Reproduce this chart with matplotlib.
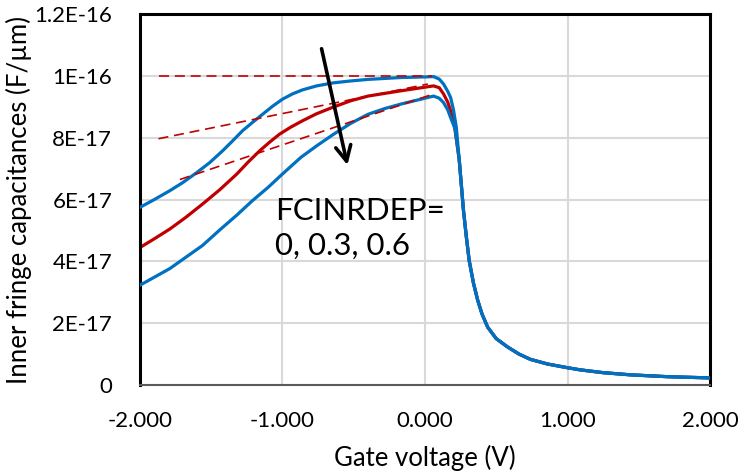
import matplotlib
matplotlib.use("Agg")
import matplotlib.pyplot as plt

plt.rcParams["font.family"] = ["Lato", "DejaVu Sans"]

# values, capacitance in units of 1e-17 F/um
# falling part above 0.24 V is shared by all three curves
tail_x = [0.24, 0.26, 0.27, 0.29, 0.31, 0.34, 0.37, 0.40, 0.44, 0.50, 0.58, 0.66,
          0.74, 0.86, 1.0, 1.09, 1.25, 1.44, 1.7, 2.0]
tail_y = [7.3, 6.2, 5.65, 4.8, 4.03, 3.3, 2.74, 2.3, 1.87, 1.5, 1.23, 1.0,
          0.83, 0.68, 0.56, 0.49, 0.40, 0.33, 0.27, 0.23]

x_f0 = [-2.0, -1.90, -1.79, -1.70, -1.60, -1.51, -1.42, -1.35, -1.28, -1.21,
        -1.14, -1.07, -1.0, -0.93, -0.86, -0.76, -0.64, -0.52, -0.40, -0.17,
        0.0, 0.06, 0.10, 0.13, 0.16, 0.18, 0.20, 0.22] + tail_x
y_f0 = [5.75, 6.0, 6.29, 6.55, 6.88, 7.2, 7.58, 7.9, 8.23, 8.5,
        8.76, 9.02, 9.25, 9.42, 9.55, 9.68, 9.78, 9.84, 9.89, 9.95,
        9.97, 9.98, 9.9, 9.74, 9.5, 9.3, 8.9, 8.33] + tail_y

x_f03 = [-2.0, -1.90, -1.79, -1.68, -1.56, -1.44, -1.32, -1.24, -1.16, -1.09,
         -1.02, -0.94, -0.86, -0.76, -0.64, -0.52, -0.40, -0.17, 0.06, 0.10,
         0.13, 0.16, 0.18, 0.21] + tail_x
y_f03 = [4.45, 4.73, 5.05, 5.42, 5.86, 6.32, 6.83, 7.22, 7.58, 7.86,
         8.12, 8.35, 8.55, 8.78, 9.0, 9.2, 9.35, 9.52, 9.68, 9.62,
         9.42, 9.15, 8.87, 8.3] + tail_y

x_f06 = [-2.0, -1.79, -1.56, -1.44, -1.32, -1.21, -1.10, -1.0, -0.87, -0.76,
         -0.64, -0.52, -0.40, -0.28, -0.17, 0.06, 0.10, 0.13, 0.16, 0.18,
         0.21] + tail_x
y_f06 = [3.23, 3.77, 4.52, 5.02, 5.5, 5.97, 6.4, 6.83, 7.37, 7.74,
         8.12, 8.47, 8.76, 8.95, 9.09, 9.35, 9.28, 9.14, 8.9, 8.65,
         8.3] + tail_y

# dashed guide lines
guide_x = [[-1.87, 0.05], [-1.87, 0.02], [-1.72, 0.06]]
guide_y = [[10.0, 10.0], [7.97, 9.74], [6.65, 9.42]]

x_ticks = [-2, -1, 0, 1, 2]
x_labels = ["-2.000", "-1.000", "0.000", "1.000", "2.000"]
y_ticks = [0, 2, 4, 6, 8, 10, 12]
y_labels = ["0", "2E-17", "4E-17", "6E-17", "8E-17", "1E-16", "1.2E-16"]

blue = "#0070C0"
red = "#C00000"

fig = plt.figure(figsize=(7.43, 4.73), dpi=100)
ax = fig.add_axes([0.1884, 0.186, 0.7672, 0.784])

ax.plot(x_f03, y_f03, color=red, lw=2.3, solid_joinstyle="round", zorder=2)
ax.plot(x_f0, y_f0, color=blue, lw=2.3, solid_joinstyle="round", zorder=3)
ax.plot(x_f06, y_f06, color=blue, lw=2.3, solid_joinstyle="round", zorder=3)

for gx, gy in zip(guide_x, guide_y):
    ax.plot(gx, gy, color=red, lw=1.2, linestyle=(0, (6, 3.5)), zorder=4)

ax.annotate("", xy=(-0.54, 7.03), xytext=(-0.73, 10.97),
            arrowprops=dict(arrowstyle="->,head_length=1.1,head_width=0.55",
                            color="black", lw=2.6), zorder=5)

ax.text(-1.05, 6.1, "FCINRDEP=\n0, 0.3, 0.6", fontsize=22.5, va="top", ha="left",
        linespacing=1.3, zorder=5)

ax.set_xlim(-2, 2)
ax.set_ylim(0, 12)
ax.set_xticks(x_ticks)
ax.set_xticklabels(x_labels)
ax.set_yticks(y_ticks)
ax.set_yticklabels(y_labels)
ax.tick_params(length=0, labelsize=16, colors="#000000")
ax.tick_params(axis="y", pad=20)
ax.tick_params(axis="x", pad=19)
ax.grid(True, color="#D9D9D9", lw=1.5)
ax.set_axisbelow(True)

for side in ["top", "left", "right"]:
    ax.spines[side].set_color("black")
    ax.spines[side].set_linewidth(2.2)
ax.spines["bottom"].set_color("#595959")
ax.spines["bottom"].set_linewidth(1.5)

ax.set_xlabel("Gate voltage (V)", fontsize=18.5, labelpad=10)
ax.set_ylabel("Inner fringe capacitances (F/\u00b5m)", fontsize=18.5, labelpad=2)

fig.savefig("out.png", dpi=100)
